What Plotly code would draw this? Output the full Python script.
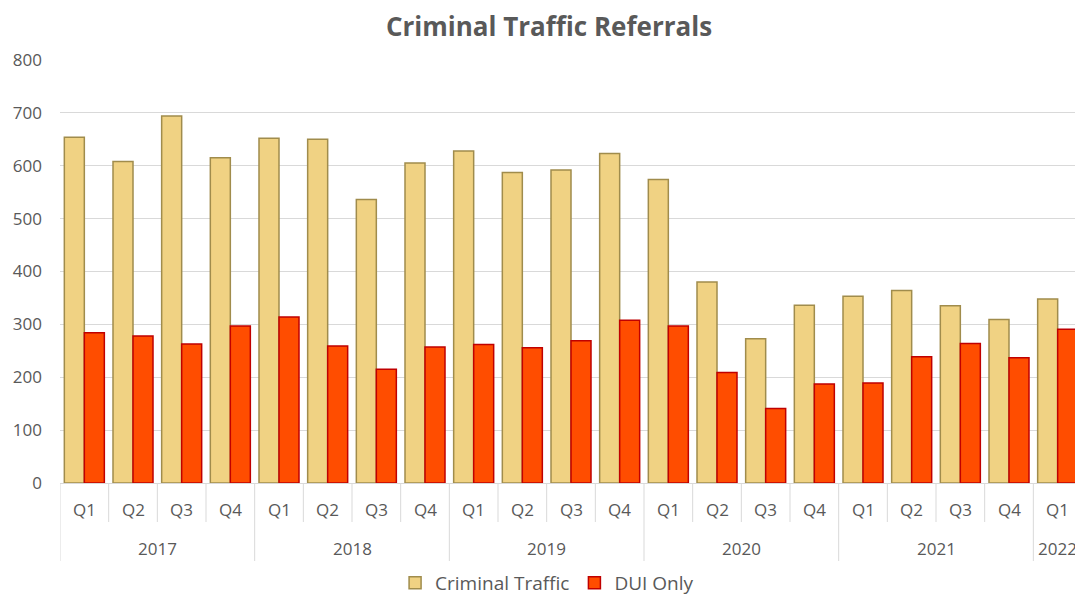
import plotly.graph_objects as go

years = ["2017"] * 4 + ["2018"] * 4 + ["2019"] * 4 + ["2020"] * 4 + ["2021"] * 4 + ["2022"]
quarters = ["Q1", "Q2", "Q3", "Q4"] * 5 + ["Q1"]

criminal_traffic = [654, 608, 694, 615, 652, 650, 536, 605, 628, 587, 592, 623,
                    574, 380, 273, 336, 353, 364, 335, 309, 348]
dui_only = [284, 278, 263, 297, 314, 259, 215, 257, 262, 256, 269, 308,
            297, 209, 141, 187, 189, 239, 264, 237, 291]

categories = [f"{y} {q}" for y, q in zip(years, quarters)]

FONT = "'Open Sans', sans-serif"
GREY = "#595959"
LINE = "#D9D9D9"

# page body has an 8px margin; figure is offset by it
W, H = 1075, 600
ML, MR, MT, MB = 52, 1, 52, 125
PLOT_H = H - MT - MB

fig = go.Figure()
fig.add_trace(go.Bar(
    x=categories, y=criminal_traffic, name="Criminal Traffic",
    marker=dict(color="#F0D283", line=dict(color="#A08C4C", width=1.5)),
))
fig.add_trace(go.Bar(
    x=categories, y=dui_only, name="DUI Only",
    marker=dict(color="#FF4D00", line=dict(color="#C00000", width=1.5)),
))

annotations = []
shapes = []
n = len(categories)
for i, q in enumerate(quarters):
    annotations.append(dict(x=i, xref="x", y=-26 / PLOT_H, yref="paper", text=q,
                            showarrow=False, yanchor="middle", xanchor="center",
                            font=dict(family=FONT, size=17, color=GREY)))
groups = []
for i, y in enumerate(years):
    if not groups or groups[-1][0] != y:
        groups.append([y, i, i])
    else:
        groups[-1][2] = i
for y, a, b in groups:
    annotations.append(dict(x=(a + b) / 2, xref="x", y=-65 / PLOT_H, yref="paper", text=y,
                            showarrow=False, yanchor="middle", xanchor="center",
                            font=dict(family=FONT, size=17, color=GREY)))
year_bounds = set([a for _, a, _ in groups] + [groups[-1][2] + 1])
for i in range(n + 1):
    depth = -78 / PLOT_H if i in year_bounds else -39 / PLOT_H
    shapes.append(dict(type="line", xref="x", yref="paper", x0=i - 0.5, x1=i - 0.5,
                       y0=0, y1=depth, line=dict(color=LINE, width=1)))

fig.update_layout(
    width=W, height=H,
    margin=dict(l=ML, r=MR, t=MT, b=MB),
    paper_bgcolor="white", plot_bgcolor="white",
    barmode="group", bargap=0.178, bargroupgap=0,
    font=dict(family=FONT, color=GREY, size=17),
    title=dict(text="<b>Criminal Traffic Referrals</b>", x=541 / W, xanchor="center",
               xref="container", y=1 - 19 / H, yanchor="middle",
               font=dict(size=26, color=GREY, family=FONT)),
    legend=dict(orientation="h", x=0.4766, xanchor="center", y=-100 / PLOT_H,
                yanchor="middle", font=dict(size=19, color=GREY, family=FONT),
                traceorder="normal"),
    showlegend=True,
    annotations=annotations,
    shapes=shapes,
)
fig.update_yaxes(range=[0, 800], dtick=100, showgrid=True, gridcolor=LINE,
                 gridwidth=1, zeroline=False, showline=False, ticklabelstandoff=17,
                 tickfont=dict(size=17, color=GREY, family=FONT), ticks="")
fig.update_xaxes(type="category", showline=True, linecolor=LINE, linewidth=1,
                 showticklabels=False, ticks="", showgrid=False,
                 range=[-0.5, n - 0.5])

fig.write_html("out.html")
